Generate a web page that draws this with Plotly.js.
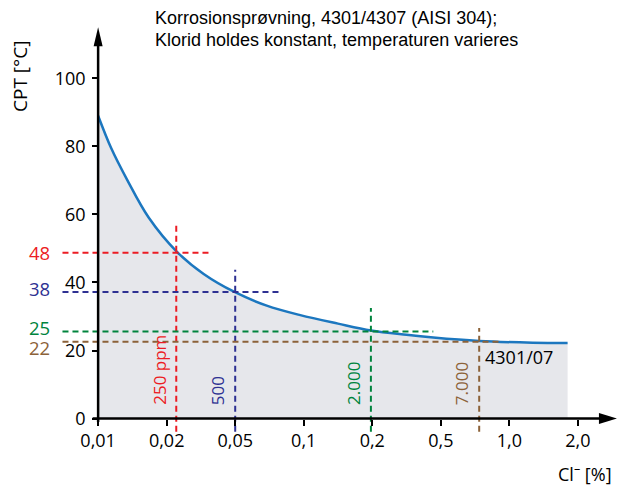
<!DOCTYPE html>
<html>
<head>
<meta charset="utf-8">
<script src="https://cdn.plot.ly/plotly-3.0.1.min.js"></script>
<style>html,body{margin:0;padding:0;background:#fff}#chart{width:621px;height:487px}</style>
</head>
<body>
<div id="chart"></div>
<script>
// ---- data ----
var titleLines = ['Korrosionsprøvning, 4301/4307 (AISI 304);', 'Klorid holdes konstant, temperaturen varieres'];
var xTickLabels = ['0,01', '0,02', '0,05', '0,1', '0,2', '0,5', '1,0', '2,0'];
var xTickPos = [0, 1, 2, 3, 4, 5, 6, 7];
var yTickVals = [0, 20, 40, 60, 80, 100];

// CPT curve (x in tick-index units of the evenly spaced Cl- axis)
var curveX = [0, 0.19, 0.42, 0.74, 1.15, 1.54, 1.99, 2.46, 2.95, 3.5, 3.98, 4.5, 4.89, 5.56, 6.34, 6.85];
var curveY = [89, 79.5, 70.3, 59.0, 49.0, 42.5, 37.2, 33.2, 30.4, 27.9, 25.9, 24.6, 23.8, 22.8, 22.3, 22.2];

// reference readings
var refLabels = ['250 ppm', '500', '2.000', '7.000'];
var refValueLabels = ['48', '38', '25', '22'];
var refX = [1.14, 2.0, 3.98, 5.56];
var refY = [48.7, 37.2, 25.6, 22.6];
var refColors = ['#ec1c24', '#2e3192', '#00843d', '#8c6239'];
// extents of the dashed guide lines
var hLineEnd = [1.63, 2.64, 4.89, 5.89];
var vLineTop = [57.8, 43.7, 32.5, 26.6];
var hLineStart = -0.52;
var vLineBottom = -3.9;
var valueLabelShift = [0, 3, 4, -6];

var xRange = [-0.6, 7.6];
var yRange = [-6, 118];

var FONT = 'Open Sans, sans-serif';
var tickFont = {family: FONT, size: 18, color: '#000'};

var traces = [];
traces.push({
  x: curveX, y: curveY, type: 'scatter', mode: 'lines',
  line: {color: '#1c77bf', width: 2.5, shape: 'spline', smoothing: 1},
  fill: 'tozeroy', fillcolor: '#e6e7eb', hoverinfo: 'skip', showlegend: false
});
for (var i = 0; i < refX.length; i++) {
  traces.push({
    x: [hLineStart, hLineEnd[i]], y: [refY[i], refY[i]], type: 'scatter', mode: 'lines',
    line: {color: refColors[i], width: 2, dash: '6px,4px'}, hoverinfo: 'skip', showlegend: false
  });
  traces.push({
    x: [refX[i], refX[i]], y: [vLineBottom, vLineTop[i]], type: 'scatter', mode: 'lines',
    line: {color: refColors[i], width: 2, dash: '6px,4px'}, hoverinfo: 'skip', showlegend: false
  });
}

var annotations = [];
for (var j = 0; j < refX.length; j++) {
  annotations.push({
    x: hLineStart, y: refY[j], xref: 'x', yref: 'y', text: refValueLabels[j],
    showarrow: false, xanchor: 'right', yanchor: 'middle', xshift: -10, yshift: valueLabelShift[j],
    font: {family: FONT, size: 18.5, color: refColors[j]}
  });
  annotations.push({
    x: refX[j], y: 3.4, xref: 'x', yref: 'y', text: refLabels[j], textangle: -90,
    showarrow: false, xanchor: 'right', yanchor: 'bottom', xshift: -4,
    font: {family: FONT, size: 17, color: refColors[j]}
  });
}
annotations.push({
  x: refX[3], y: 18, xref: 'x', yref: 'y', text: '4301/07', showarrow: false,
  xanchor: 'left', yanchor: 'middle', xshift: 4,
  font: {family: FONT, size: 18, color: '#000'}
});
annotations.push({
  x: -0.066, y: 0.86, xref: 'paper', yref: 'paper', text: 'CPT [°C]', textangle: -90,
  showarrow: false, xanchor: 'center', yanchor: 'middle',
  font: {family: FONT, size: 19, color: '#000'}
});
annotations.push({
  x: 0.94, y: -0.08, xref: 'paper', yref: 'paper', text: 'Cl<sup>–</sup> [%]',
  showarrow: false, xanchor: 'center', yanchor: 'middle',
  font: {family: FONT, size: 18, color: '#000'}
});
// chart title (two left-aligned lines)
var titleCenters = [18, 39.5];
for (var k = 0; k < titleLines.length; k++) {
  annotations.push({
    x: (153 - 57) / 562, y: (439 - titleCenters[k]) / 422, xref: 'paper', yref: 'paper',
    text: titleLines[k], showarrow: false, xanchor: 'left', yanchor: 'middle', align: 'left',
    font: {family: 'Liberation Sans, Arial, sans-serif', size: 18, color: '#000'}
  });
}

var shapes = [
  {type: 'line', xref: 'x', yref: 'y', x0: 0, x1: 0, y0: -1, y1: 112, line: {color: '#000', width: 2.5}},
  {type: 'line', xref: 'x', yref: 'y', x0: -0.08, x1: 7.4, y0: 0, y1: 0, line: {color: '#000', width: 2.5}},
  {type: 'path', xref: 'x', yref: 'y', xsizemode: 'pixel', ysizemode: 'pixel', xanchor: 0, yanchor: 115,
   path: 'M0,0 L-4.5,-19 L4.5,-19 Z', fillcolor: '#000', line: {width: 0}},
  {type: 'path', xref: 'x', yref: 'y', xsizemode: 'pixel', ysizemode: 'pixel', xanchor: 7.57, yanchor: 0,
   path: 'M0,0 L-18,5.5 L-18,-5.5 Z', fillcolor: '#000', line: {width: 0}}
];

var layout = {
  width: 621, height: 487,
  margin: {l: 57, r: 2, t: 17, b: 48},
  paper_bgcolor: '#fff', plot_bgcolor: 'rgba(0,0,0,0)',
  showlegend: false,
  xaxis: {
    range: xRange, anchor: 'free', position: (0 - yRange[0]) / (yRange[1] - yRange[0]),
    tickmode: 'array', tickvals: xTickPos, ticktext: xTickLabels,
    ticks: 'outside', ticklen: 6, tickwidth: 2, tickcolor: '#000',
    showline: false, showgrid: false, zeroline: false, tickfont: tickFont,
    fixedrange: true
  },
  yaxis: {
    range: yRange, anchor: 'free', position: (0 - xRange[0]) / (xRange[1] - xRange[0]),
    tickmode: 'array', tickvals: yTickVals,
    ticks: 'outside', ticklen: 6, tickwidth: 2, tickcolor: '#000', ticklabelstandoff: 3,
    showline: false, showgrid: false, zeroline: false, tickfont: tickFont,
    fixedrange: true
  },
  shapes: shapes,
  annotations: annotations
};

Plotly.newPlot('chart', traces, layout, {displayModeBar: false, staticPlot: true});
</script>
</body>
</html>
